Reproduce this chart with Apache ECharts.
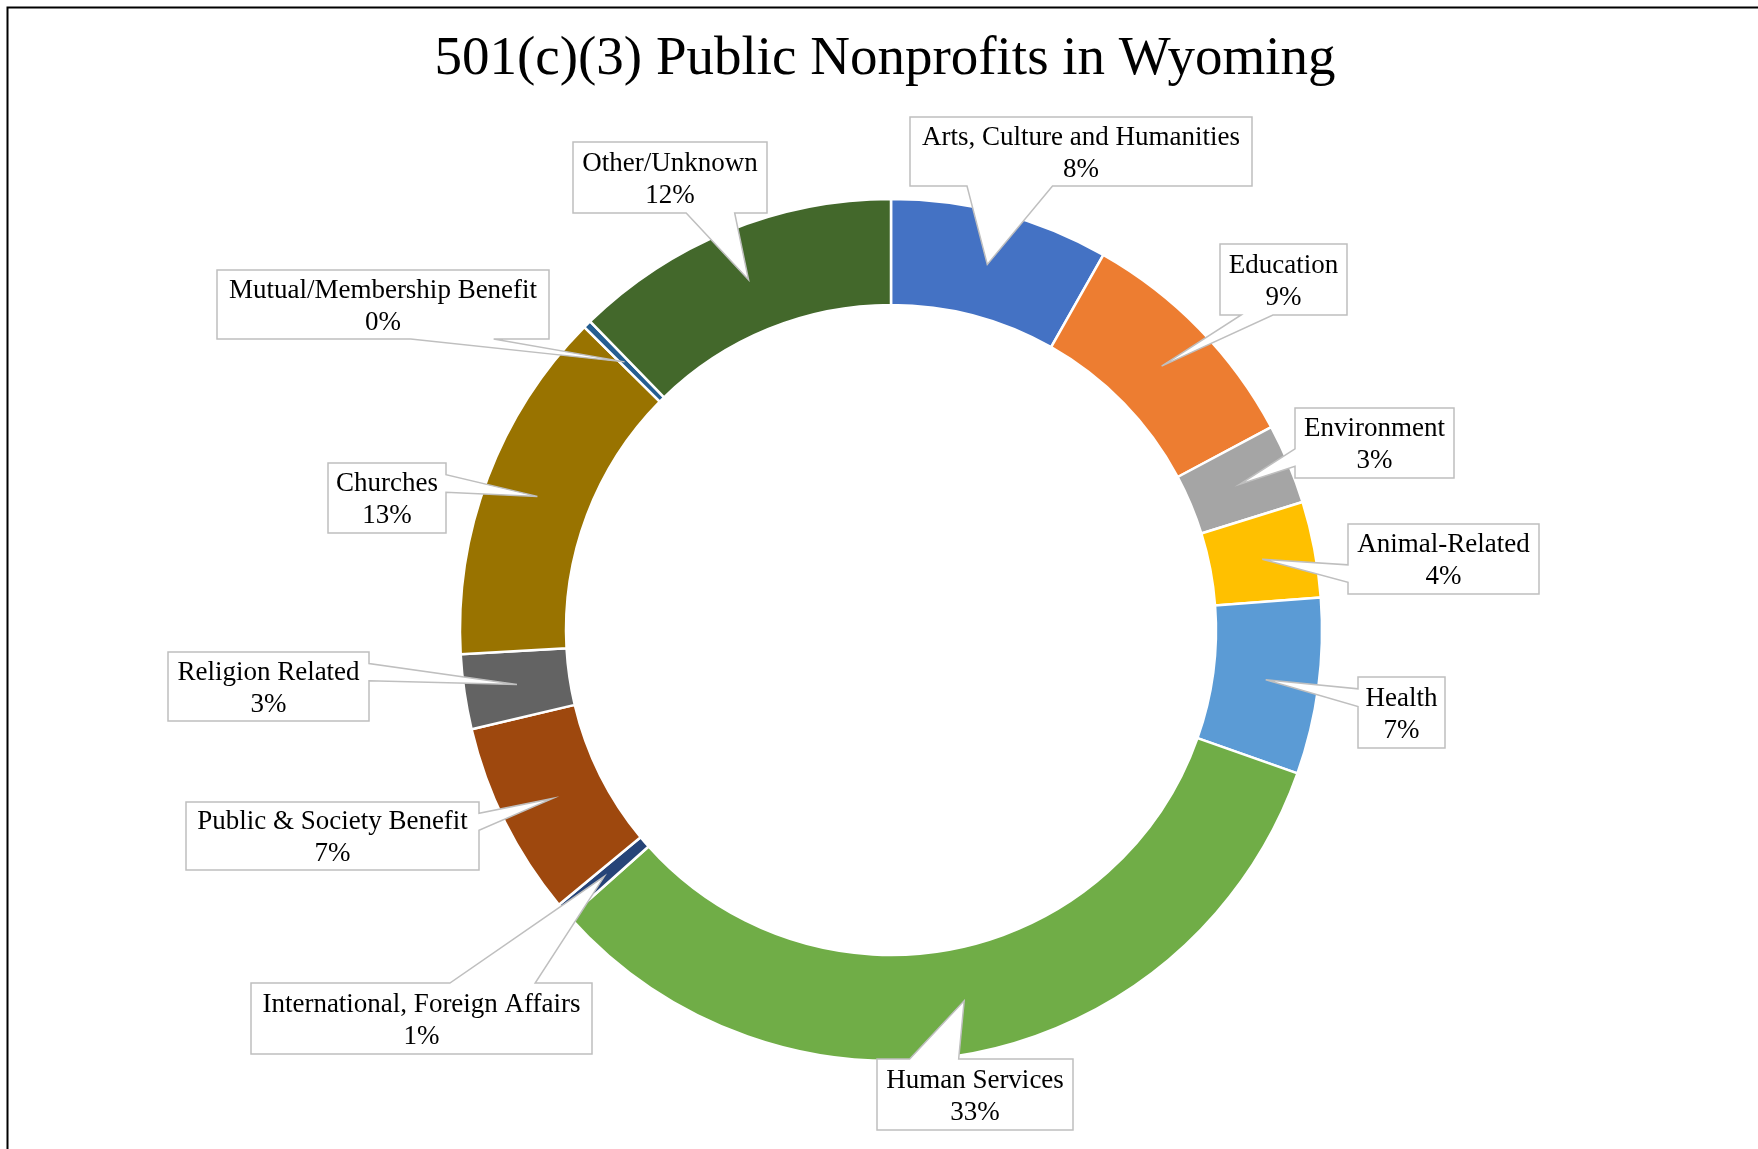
<!DOCTYPE html>
<html>
<head>
<meta charset="utf-8">
<script src="https://cdn.jsdelivr.net/npm/echarts@6/dist/echarts.min.js"></script>
<style>
  html, body { margin: 0; padding: 0; background: #ffffff; }
  #chart { width: 1758px; height: 1149px; }
</style>
</head>
<body>
<div id="chart"></div>
<script>
// ---------- data ----------
const chartTitle = '501(c)(3) Public Nonprofits in Wyoming';
const categories = [
  'Arts, Culture and Humanities',
  'Education',
  'Environment',
  'Animal-Related',
  'Health',
  'Human Services',
  'International, Foreign Affairs',
  'Public & Society Benefit',
  'Religion Related',
  'Churches',
  'Mutual/Membership Benefit',
  'Other/Unknown'
];
const shares = [8.2, 9.0, 3.0, 3.6, 6.6, 33.0, 0.6, 7.3, 2.8, 13.3, 0.3, 12.3];

// ---------- styles / layout ----------
const sliceColors = ['#4472C4', '#ED7D31', '#A5A5A5', '#FFC000', '#5B9BD5', '#70AD47',
                     '#264478', '#9E480E', '#636363', '#997300', '#255E91', '#43682B'];
// callout boxes [left, top, width, height] in px
const calloutBoxes = [
  [910, 117, 342, 69],
  [1220, 244, 127, 71],
  [1295, 408, 159, 70],
  [1348, 524, 191, 70],
  [1358, 677, 87, 71],
  [877, 1059, 196, 71],
  [251, 983, 341, 71],
  [186, 802, 293, 68],
  [168, 652, 201, 69],
  [328, 463, 118, 70],
  [217, 270, 332, 69],
  [573, 142, 194, 71]
];
const serif = "'Liberation Serif', 'Times New Roman', serif";

const total = shares.reduce((a, b) => a + b, 0);
const pieData = categories.map((c, i) => ({ name: c, value: shares[i] }));

const chart = echarts.init(document.getElementById('chart'), null, { renderer: 'canvas' });

const baseSeries = {
  type: 'pie',
  center: [891, 630],
  radius: [325, 431],
  startAngle: 90,
  clockwise: true,
  avoidLabelOverlap: false,
  silent: true,
  data: pieData
};

chart.setOption({
  backgroundColor: '#ffffff',
  animation: false,
  color: sliceColors,
  title: {
    text: chartTitle,
    left: 880,
    textAlign: 'center',
    top: 27,
    textStyle: { fontFamily: serif, fontSize: 55, fontWeight: 'normal', color: '#000000' }
  },
  series: [
    Object.assign({}, baseSeries, {
      z: 2,
      itemStyle: { borderColor: '#ffffff', borderWidth: 2.5 },
      label: { show: false },
      labelLine: { show: false },
      emphasis: { disabled: true }
    }),
    Object.assign({}, baseSeries, {
      z: 10,
      itemStyle: { color: 'rgba(0,0,0,0)', borderWidth: 0 },
      emphasis: { disabled: true },
      labelLine: { show: false },
      label: {
        show: true,
        position: 'outside',
        color: '#000000',
        fontFamily: serif,
        fontSize: 27,
        lineHeight: 32,
        align: 'center',
        formatter: function (p) {
          return p.name + '\n' + Math.round(p.value / total * 100) + '%';
        }
      },
      labelLayout: function (params) {
        const b = calloutBoxes[params.dataIndex];
        return { x: b[0] + b[2] / 2, y: b[1] + b[3] / 2 + 2, align: 'center', verticalAlign: 'middle' };
      }
    })
  ]
});

// ---------- callout shapes (Office wedgeRectCallout geometry) ----------
function calloutPoints(l, t, w, h, tx, ty) {
  const r = l + w, b = t + h, hc = l + w / 2, vc = t + h / 2;
  const dxPos = tx - hc, dyPos = ty - vc;
  const dq = dxPos * h / w;
  const dz = Math.abs(dyPos) - Math.abs(dq);
  const x1 = l + w * (dxPos > 0 ? 7 : 2) / 12, x2 = l + w * (dxPos > 0 ? 10 : 5) / 12;
  const y1 = t + h * (dyPos > 0 ? 7 : 2) / 12, y2 = t + h * (dyPos > 0 ? 10 : 5) / 12;
  const pts = [[l, t]];
  if (dz > 0 && dyPos <= 0) pts.push([x1, t], [tx, ty], [x2, t]);
  pts.push([r, t]);
  if (dz <= 0 && dxPos > 0) pts.push([r, y1], [tx, ty], [r, y2]);
  pts.push([r, b]);
  if (dz > 0 && dyPos > 0) pts.push([x2, b], [tx, ty], [x1, b]);
  pts.push([l, b]);
  if (dz <= 0 && dxPos <= 0) pts.push([l, y2], [tx, ty], [l, y1]);
  return pts;
}

const seriesData = chart.getModel().getSeriesByIndex(0).getData();
const graphics = [{
  type: 'rect',
  shape: { x: 7.5, y: 7.5, width: 1800, height: 1200 },
  style: { fill: 'none', stroke: '#000000', lineWidth: 2 },
  silent: true,
  z: 1
}];
categories.forEach(function (c, i) {
  const lay = seriesData.getItemLayout(i);
  const mid = (lay.startAngle + lay.endAngle) / 2;
  const rm = (lay.r0 + lay.r) / 2;
  const tx = lay.cx + rm * Math.cos(mid);
  const ty = lay.cy + rm * Math.sin(mid);
  const b = calloutBoxes[i];
  graphics.push({
    type: 'polygon',
    shape: { points: calloutPoints(b[0], b[1], b[2], b[3], tx, ty) },
    style: { fill: '#ffffff', stroke: '#BFBFBF', lineWidth: 1.5 },
    silent: true,
    z: 5
  });
});
chart.setOption({ graphic: graphics });
</script>
</body>
</html>
